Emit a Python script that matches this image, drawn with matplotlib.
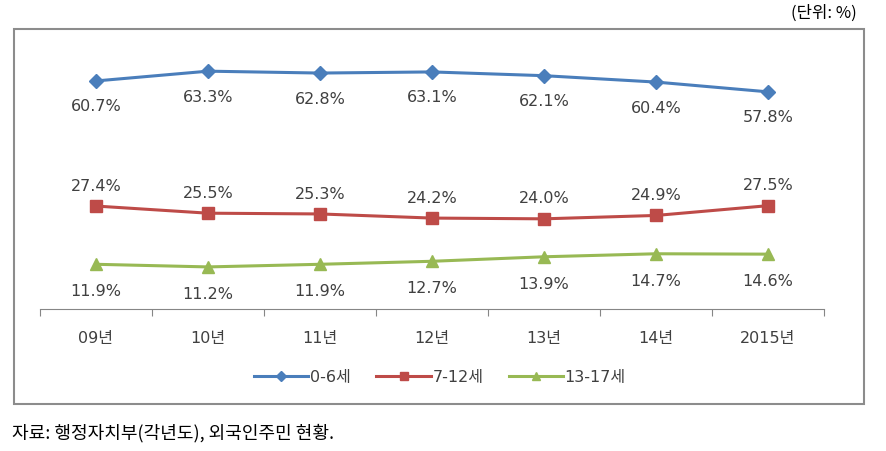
import matplotlib.pyplot as plt
from matplotlib.patches import Rectangle

plt.rcParams['font.family'] = ['DejaVu Sans', 'Noto Sans CJK KR']

years = ["09년", "10년", "11년", "12년", "13년", "14년", "2015년"]
age_0_6 = [60.7, 63.3, 62.8, 63.1, 62.1, 60.4, 57.8]
age_7_12 = [27.4, 25.5, 25.3, 24.2, 24.0, 24.9, 27.5]
age_13_17 = [11.9, 11.2, 11.9, 12.7, 13.9, 14.7, 14.6]

fig = plt.figure(figsize=(8.87, 4.52), dpi=100)
ax = fig.add_axes([40 / 887, 1 - 310 / 452, 784 / 887, 263 / 452])

x = range(len(years))
series = [
    (age_0_6, "0-6세", "#4A7EBB", "D", 7, -18),
    (age_7_12, "7-12세", "#BE4B48", "s", 8, 15),
    (age_13_17, "13-17세", "#98B954", "^", 8, -19),
]
for vals, name, color, marker, ms, off in series:
    ax.plot(x, vals, color=color, lw=2.2, marker=marker, ms=ms, label=name)
    for i, v in enumerate(vals):
        ax.annotate(f"{v:.1f}%", (i, v), xytext=(0, off), textcoords="offset points",
                    ha="center", va="center", fontsize=11.5, color="#404040")

ax.set_xlim(-0.5, len(years) - 0.5)
ax.set_ylim(0, 70)
ax.set_yticks([])
for s in ["top", "right", "left"]:
    ax.spines[s].set_visible(False)
ax.spines["bottom"].set_color("#868686")
ax.set_xticks([i - 0.5 for i in range(len(years) + 1)])
ax.set_xticklabels([])
ax.tick_params(axis="x", length=5, color="#868686", direction="out")
for i, lab in enumerate(years):
    ax.text(i, -7.5, lab, ha="center", va="center", fontsize=11.5, color="#404040")
ax.patch.set_alpha(0)

fig.legend(loc="center", bbox_to_anchor=(440 / 887, 1 - 378 / 452), ncol=3, frameon=False,
           fontsize=11.5, handlelength=3.4, columnspacing=1.6, handletextpad=0.1,
           markerscale=0.8, labelcolor="#404040")

fig.patches.append(Rectangle((14 / 887, 1 - 405 / 452), 850 / 887, 375 / 452,
                             transform=fig.transFigure, fill=False,
                             edgecolor="#8C8C8C", lw=1.5, zorder=0))
fig.text(857 / 887, 1 - 13 / 452, "(단위: %)", ha="right", va="center", fontsize=12,
         family=['Noto Sans CJK KR', 'DejaVu Sans'])
fig.text(12 / 887, 1 - 433 / 452, "자료: 행정자치부(각년도), 외국인주민 현황.", ha="left",
         va="center", fontsize=13, family=['Noto Sans CJK KR', 'DejaVu Sans'])

fig.savefig("out.png", dpi=100)
